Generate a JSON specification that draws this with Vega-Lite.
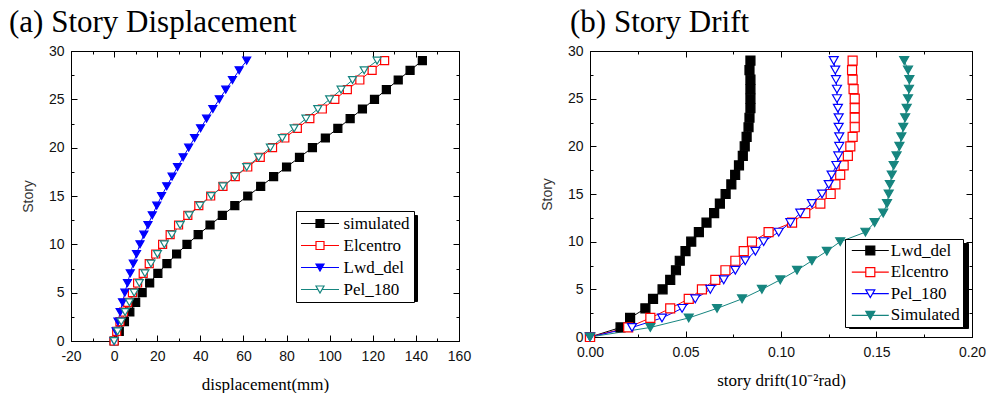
{
  "$schema": "https://vega.github.io/schema/vega-lite/v6.json",
  "padding": {"left": 8, "top": 6, "right": 0, "bottom": 0},
  "background": "white",
  "datasets": {
    "disp": [
      {"series":"simulated","story":0,"disp":0},{"series":"simulated","story":1,"disp":2.4},{"series":"simulated","story":2,"disp":4.8},{"series":"simulated","story":3,"disp":7.3},{"series":"simulated","story":4,"disp":10},{"series":"simulated","story":5,"disp":13},{"series":"simulated","story":6,"disp":16.5},{"series":"simulated","story":7,"disp":20.3},{"series":"simulated","story":8,"disp":24.5},{"series":"simulated","story":9,"disp":29},{"series":"simulated","story":10,"disp":33.8},{"series":"simulated","story":11,"disp":39},{"series":"simulated","story":12,"disp":44.5},{"series":"simulated","story":13,"disp":50.2},{"series":"simulated","story":14,"disp":56},{"series":"simulated","story":15,"disp":62},{"series":"simulated","story":16,"disp":68},{"series":"simulated","story":17,"disp":74},{"series":"simulated","story":18,"disp":80},{"series":"simulated","story":19,"disp":86},{"series":"simulated","story":20,"disp":92},{"series":"simulated","story":21,"disp":98},{"series":"simulated","story":22,"disp":103.8},{"series":"simulated","story":23,"disp":109.5},{"series":"simulated","story":24,"disp":115.2},{"series":"simulated","story":25,"disp":120.8},{"series":"simulated","story":26,"disp":126.3},{"series":"simulated","story":27,"disp":131.8},{"series":"simulated","story":28,"disp":137.3},{"series":"simulated","story":29,"disp":143},
      {"series":"Elcentro","story":0,"disp":0},{"series":"Elcentro","story":1,"disp":1.2},{"series":"Elcentro","story":2,"disp":2.7},{"series":"Elcentro","story":3,"disp":4.4},{"series":"Elcentro","story":4,"disp":6.3},{"series":"Elcentro","story":5,"disp":8.5},{"series":"Elcentro","story":6,"disp":10.9},{"series":"Elcentro","story":7,"disp":13.5},{"series":"Elcentro","story":8,"disp":16.3},{"series":"Elcentro","story":9,"disp":19.3},{"series":"Elcentro","story":10,"disp":22.5},{"series":"Elcentro","story":11,"disp":26},{"series":"Elcentro","story":12,"disp":29.9},{"series":"Elcentro","story":13,"disp":34.2},{"series":"Elcentro","story":14,"disp":39.3},{"series":"Elcentro","story":15,"disp":44.8},{"series":"Elcentro","story":16,"disp":50.5},{"series":"Elcentro","story":17,"disp":56.2},{"series":"Elcentro","story":18,"disp":62},{"series":"Elcentro","story":19,"disp":67.8},{"series":"Elcentro","story":20,"disp":73.5},{"series":"Elcentro","story":21,"disp":79.2},{"series":"Elcentro","story":22,"disp":85},{"series":"Elcentro","story":23,"disp":90.8},{"series":"Elcentro","story":24,"disp":96.6},{"series":"Elcentro","story":25,"disp":102.4},{"series":"Elcentro","story":26,"disp":108.2},{"series":"Elcentro","story":27,"disp":114},{"series":"Elcentro","story":28,"disp":119.7},{"series":"Elcentro","story":29,"disp":125.5},
      {"series":"Lwd_del","story":0,"disp":0},{"series":"Lwd_del","story":1,"disp":0.9},{"series":"Lwd_del","story":2,"disp":1.8},{"series":"Lwd_del","story":3,"disp":2.8},{"series":"Lwd_del","story":4,"disp":3.9},{"series":"Lwd_del","story":5,"disp":5},{"series":"Lwd_del","story":6,"disp":6.2},{"series":"Lwd_del","story":7,"disp":7.5},{"series":"Lwd_del","story":8,"disp":8.9},{"series":"Lwd_del","story":9,"disp":10.4},{"series":"Lwd_del","story":10,"disp":12},{"series":"Lwd_del","story":11,"disp":13.8},{"series":"Lwd_del","story":12,"disp":15.7},{"series":"Lwd_del","story":13,"disp":17.7},{"series":"Lwd_del","story":14,"disp":19.8},{"series":"Lwd_del","story":15,"disp":22},{"series":"Lwd_del","story":16,"disp":24.4},{"series":"Lwd_del","story":17,"disp":26.9},{"series":"Lwd_del","story":18,"disp":29.4},{"series":"Lwd_del","story":19,"disp":32},{"series":"Lwd_del","story":20,"disp":34.6},{"series":"Lwd_del","story":21,"disp":37.3},{"series":"Lwd_del","story":22,"disp":40.1},{"series":"Lwd_del","story":23,"disp":42.9},{"series":"Lwd_del","story":24,"disp":45.8},{"series":"Lwd_del","story":25,"disp":48.8},{"series":"Lwd_del","story":26,"disp":51.8},{"series":"Lwd_del","story":27,"disp":54.9},{"series":"Lwd_del","story":28,"disp":58},{"series":"Lwd_del","story":29,"disp":61.5},
      {"series":"Pel_180","story":0,"disp":0},{"series":"Pel_180","story":1,"disp":1.6},{"series":"Pel_180","story":2,"disp":3.3},{"series":"Pel_180","story":3,"disp":5.1},{"series":"Pel_180","story":4,"disp":7.1},{"series":"Pel_180","story":5,"disp":9.3},{"series":"Pel_180","story":6,"disp":11.7},{"series":"Pel_180","story":7,"disp":14.3},{"series":"Pel_180","story":8,"disp":17.1},{"series":"Pel_180","story":9,"disp":20.1},{"series":"Pel_180","story":10,"disp":23.3},{"series":"Pel_180","story":11,"disp":26.8},{"series":"Pel_180","story":12,"disp":30.6},{"series":"Pel_180","story":13,"disp":34.8},{"series":"Pel_180","story":14,"disp":39.8},{"series":"Pel_180","story":15,"disp":45},{"series":"Pel_180","story":16,"disp":50.5},{"series":"Pel_180","story":17,"disp":56},{"series":"Pel_180","story":18,"disp":61.5},{"series":"Pel_180","story":19,"disp":67},{"series":"Pel_180","story":20,"disp":72.5},{"series":"Pel_180","story":21,"disp":78},{"series":"Pel_180","story":22,"disp":83.5},{"series":"Pel_180","story":23,"disp":89},{"series":"Pel_180","story":24,"disp":94.5},{"series":"Pel_180","story":25,"disp":100},{"series":"Pel_180","story":26,"disp":105.3},{"series":"Pel_180","story":27,"disp":110.6},{"series":"Pel_180","story":28,"disp":116},{"series":"Pel_180","story":29,"disp":122}
    ],
    "drift": [
      {"series":"Lwd_del","story":0,"drift":0},{"series":"Lwd_del","story":1,"drift":0.016},{"series":"Lwd_del","story":2,"drift":0.021},{"series":"Lwd_del","story":3,"drift":0.029},{"series":"Lwd_del","story":4,"drift":0.033},{"series":"Lwd_del","story":5,"drift":0.038},{"series":"Lwd_del","story":6,"drift":0.042},{"series":"Lwd_del","story":7,"drift":0.045},{"series":"Lwd_del","story":8,"drift":0.047},{"series":"Lwd_del","story":9,"drift":0.05},{"series":"Lwd_del","story":10,"drift":0.053},{"series":"Lwd_del","story":11,"drift":0.057},{"series":"Lwd_del","story":12,"drift":0.061},{"series":"Lwd_del","story":13,"drift":0.065},{"series":"Lwd_del","story":14,"drift":0.068},{"series":"Lwd_del","story":15,"drift":0.071},{"series":"Lwd_del","story":16,"drift":0.074},{"series":"Lwd_del","story":17,"drift":0.076},{"series":"Lwd_del","story":18,"drift":0.078},{"series":"Lwd_del","story":19,"drift":0.08},{"series":"Lwd_del","story":20,"drift":0.081},{"series":"Lwd_del","story":21,"drift":0.082},{"series":"Lwd_del","story":22,"drift":0.083},{"series":"Lwd_del","story":23,"drift":0.0835},{"series":"Lwd_del","story":24,"drift":0.084},{"series":"Lwd_del","story":25,"drift":0.084},{"series":"Lwd_del","story":26,"drift":0.084},{"series":"Lwd_del","story":27,"drift":0.084},{"series":"Lwd_del","story":28,"drift":0.0835},{"series":"Lwd_del","story":29,"drift":0.084},
      {"series":"Elcentro","story":0,"drift":0},{"series":"Elcentro","story":1,"drift":0.02},{"series":"Elcentro","story":2,"drift":0.0316},{"series":"Elcentro","story":3,"drift":0.042},{"series":"Elcentro","story":4,"drift":0.0517},{"series":"Elcentro","story":5,"drift":0.0586},{"series":"Elcentro","story":6,"drift":0.0656},{"series":"Elcentro","story":7,"drift":0.0709},{"series":"Elcentro","story":8,"drift":0.0761},{"series":"Elcentro","story":9,"drift":0.0805},{"series":"Elcentro","story":10,"drift":0.0848},{"series":"Elcentro","story":11,"drift":0.0935},{"series":"Elcentro","story":12,"drift":0.1058},{"series":"Elcentro","story":13,"drift":0.1127},{"series":"Elcentro","story":14,"drift":0.1206},{"series":"Elcentro","story":15,"drift":0.126},{"series":"Elcentro","story":16,"drift":0.1285},{"series":"Elcentro","story":17,"drift":0.131},{"series":"Elcentro","story":18,"drift":0.1328},{"series":"Elcentro","story":19,"drift":0.135},{"series":"Elcentro","story":20,"drift":0.1363},{"series":"Elcentro","story":21,"drift":0.1375},{"series":"Elcentro","story":22,"drift":0.1386},{"series":"Elcentro","story":23,"drift":0.1386},{"series":"Elcentro","story":24,"drift":0.1386},{"series":"Elcentro","story":25,"drift":0.1386},{"series":"Elcentro","story":26,"drift":0.138},{"series":"Elcentro","story":27,"drift":0.1375},{"series":"Elcentro","story":28,"drift":0.1372},{"series":"Elcentro","story":29,"drift":0.1375},
      {"series":"Pel_180","story":0,"drift":0},{"series":"Pel_180","story":1,"drift":0.022},{"series":"Pel_180","story":2,"drift":0.0377},{"series":"Pel_180","story":3,"drift":0.0482},{"series":"Pel_180","story":4,"drift":0.0551},{"series":"Pel_180","story":5,"drift":0.063},{"series":"Pel_180","story":6,"drift":0.07},{"series":"Pel_180","story":7,"drift":0.0761},{"series":"Pel_180","story":8,"drift":0.0813},{"series":"Pel_180","story":9,"drift":0.0866},{"series":"Pel_180","story":10,"drift":0.0909},{"series":"Pel_180","story":11,"drift":0.0988},{"series":"Pel_180","story":12,"drift":0.1049},{"series":"Pel_180","story":13,"drift":0.1101},{"series":"Pel_180","story":14,"drift":0.1162},{"series":"Pel_180","story":15,"drift":0.1215},{"series":"Pel_180","story":16,"drift":0.125},{"series":"Pel_180","story":17,"drift":0.1265},{"series":"Pel_180","story":18,"drift":0.129},{"series":"Pel_180","story":19,"drift":0.13},{"series":"Pel_180","story":20,"drift":0.1305},{"series":"Pel_180","story":21,"drift":0.1305},{"series":"Pel_180","story":22,"drift":0.1302},{"series":"Pel_180","story":23,"drift":0.1302},{"series":"Pel_180","story":24,"drift":0.1298},{"series":"Pel_180","story":25,"drift":0.1293},{"series":"Pel_180","story":26,"drift":0.1293},{"series":"Pel_180","story":27,"drift":0.1288},{"series":"Pel_180","story":28,"drift":0.1284},{"series":"Pel_180","story":29,"drift":0.1276},
      {"series":"Simulated","story":0,"drift":0},{"series":"Simulated","story":1,"drift":0.0316},{"series":"Simulated","story":2,"drift":0.0517},{"series":"Simulated","story":3,"drift":0.0665},{"series":"Simulated","story":4,"drift":0.0796},{"series":"Simulated","story":5,"drift":0.09},{"series":"Simulated","story":6,"drift":0.0996},{"series":"Simulated","story":7,"drift":0.1084},{"series":"Simulated","story":8,"drift":0.1162},{"series":"Simulated","story":9,"drift":0.124},{"series":"Simulated","story":10,"drift":0.131},{"series":"Simulated","story":11,"drift":0.1442},{"series":"Simulated","story":12,"drift":0.149},{"series":"Simulated","story":13,"drift":0.1535},{"series":"Simulated","story":14,"drift":0.1555},{"series":"Simulated","story":15,"drift":0.1564},{"series":"Simulated","story":16,"drift":0.157},{"series":"Simulated","story":17,"drift":0.158},{"series":"Simulated","story":18,"drift":0.159},{"series":"Simulated","story":19,"drift":0.1605},{"series":"Simulated","story":20,"drift":0.162},{"series":"Simulated","story":21,"drift":0.163},{"series":"Simulated","story":22,"drift":0.164},{"series":"Simulated","story":23,"drift":0.165},{"series":"Simulated","story":24,"drift":0.1658},{"series":"Simulated","story":25,"drift":0.1665},{"series":"Simulated","story":26,"drift":0.167},{"series":"Simulated","story":27,"drift":0.1672},{"series":"Simulated","story":28,"drift":0.1665},{"series":"Simulated","story":29,"drift":0.1645}
    ]
  },
  "hconcat": [
    {
      "width": 388,
      "height": 290,
      "title": {"text": "(a) Story Displacement", "anchor": "start", "frame": "group", "dx": -62, "offset": -19, "baseline": "alphabetic", "font": "Liberation Serif", "fontSize": 31, "fontWeight": "normal", "color": "#000"},
      "data": {"name": "disp"},
      "layer": [
        {
          "mark": {"type": "line", "strokeWidth": 1},
          "encoding": {
            "x": {"field": "disp", "type": "quantitative", "scale": {"domain": [-20, 160], "nice": false, "zero": false},
              "axis": {"orient": "bottom", "values": [-20,-10,0,10,20,30,40,50,60,70,80,90,100,110,120,130,140,150,160],
                "labelExpr": "datum.value % 20 === 0 ? '' + datum.value : ''", "labelPadding": 14,
                "tickDash": {"condition": {"test": "datum.value % 20 !== 0", "value": [3, 20]}, "value": []},
                "title": "displacement(mm)", "titleFont": "Liberation Serif", "titleFontSize": 17, "titleFontWeight": "normal", "titlePadding": 13}},
            "y": {"field": "story", "type": "quantitative", "scale": {"domain": [0, 30], "nice": false},
              "axis": {"orient": "left", "values": [0,2.5,5,7.5,10,12.5,15,17.5,20,22.5,25,27.5,30],
                "labelExpr": "datum.value % 5 === 0 ? '' + datum.value : ''", "labelPadding": 13,
                "tickDash": {"condition": {"test": "datum.value % 5 !== 0", "value": [3, 20]}, "value": []},
                "title": "Story", "titleFont": "Liberation Sans", "titleFontSize": 14, "titleFontWeight": "normal", "titleColor": "#333", "titlePadding": 13}},
            "color": {"field": "series", "type": "nominal", "scale": {"domain": ["simulated", "Elcentro", "Lwd_del", "Pel_180"], "range": ["#000000", "#ff0000", "#0000ff", "#16857f"]}, "legend": null},
            "order": {"field": "story", "type": "quantitative"}
          }
        },
        {
          "mark": {"type": "point"},
          "encoding": {
            "x": {"field": "disp", "type": "quantitative", "axis": null},
            "y": {"field": "story", "type": "quantitative", "axis": null},
            "opacity": {"field": "series", "type": "ordinal", "sort": ["simulated", "Elcentro", "Lwd_del", "Pel_180"], "scale": {"range": [0, 0]},
              "legend": {"orient": "none", "legendX": 229, "legendY": 164, "title": null, "symbolType": "stroke", "symbolSize": 11664, "symbolStrokeWidth": 1, "symbolOffset": 0,
                "labelExpr": "''", "labelFontSize": 17, "labelOffset": 0, "padding": 4, "rowPadding": 12.3, "clipHeight": 17, "strokeColor": "#000", "fillColor": "#000"}}
          }
        },
        {
          "mark": {"type": "point", "opacity": 1, "strokeWidth": 1.2, "size": 64},
          "encoding": {
            "x": {"field": "disp", "type": "quantitative",
              "axis": {"orient": "top", "values": [-20,-10,0,10,20,30,40,50,60,70,80,90,100,110,120,130,140,150,160], "labels": false, "title": null,
                "tickDash": {"condition": {"test": "datum.value % 20 !== 0", "value": [3, 20]}, "value": []}}},
            "y": {"field": "story", "type": "quantitative",
              "axis": {"orient": "right", "values": [0,2.5,5,7.5,10,12.5,15,17.5,20,22.5,25,27.5,30], "labels": false, "title": null,
                "tickDash": {"condition": {"test": "datum.value % 5 !== 0", "value": [3, 20]}, "value": []}}},
            "shape": {"field": "series", "type": "nominal", "scale": {"domain": ["simulated", "Elcentro", "Lwd_del", "Pel_180"], "range": ["square", "square", "triangle-down", "triangle-down"]}, "legend": null},
            "fill": {"field": "series", "type": "nominal", "scale": {"domain": ["simulated", "Elcentro", "Lwd_del", "Pel_180"], "range": ["#000000", "#ffffff", "#0000ff", "#ffffff"]}, "legend": null},
            "stroke": {"field": "series", "type": "nominal", "scale": {"domain": ["simulated", "Elcentro", "Lwd_del", "Pel_180"], "range": ["#000000", "#ff0000", "#0000ff", "#16857f"]}, "legend": null}
          }
        },
        {
          "transform": [{"filter": "false"}],
          "mark": {"type": "point", "strokeWidth": 1.2, "size": 64},
          "encoding": {
            "x": {"field": "disp", "type": "quantitative", "axis": null},
            "y": {"field": "story", "type": "quantitative", "axis": null},
            "shape": {"field": "series", "type": "nominal", "scale": {"domain": ["simulated", "Elcentro", "Lwd_del", "Pel_180"], "range": ["M-4.75,0H-1M1,0H4.75M-1,-1H1V1H-1Z", "M-4.75,0H-1M1,0H4.75M-1,-1H1V1H-1Z", "M-4.75,0H-0.5M0.5,0H4.75M-1,-0.87H1L0,0.87Z", "M-4.75,0H-0.5M0.5,0H4.75M-1,-0.87H1L0,0.87Z"]},
              "legend": {"orient": "none", "legendX": 225, "legendY": 160, "title": null, "symbolSize": 64, "symbolStrokeWidth": 1.2, "symbolOpacity": 1, "symbolOffset": 11.5, "labelOffset": 15, "labelFont": "Liberation Serif", "labelFontSize": 17, "labelColor": "#000", "padding": 4, "rowPadding": 4, "clipHeight": 17, "strokeColor": "#000", "fillColor": "#fff"}},
            "fill": {"field": "series", "type": "nominal", "scale": {"domain": ["simulated", "Elcentro", "Lwd_del", "Pel_180"], "range": ["#000000", "#ffffff", "#0000ff", "#ffffff"]},
              "legend": {"orient": "none", "legendX": 225, "legendY": 160, "title": null, "symbolSize": 64, "symbolStrokeWidth": 1.2, "symbolOpacity": 1, "symbolOffset": 11.5, "labelOffset": 15, "labelFont": "Liberation Serif", "labelFontSize": 17, "labelColor": "#000", "padding": 4, "rowPadding": 4, "clipHeight": 17, "strokeColor": "#000", "fillColor": "#fff"}},
            "stroke": {"field": "series", "type": "nominal", "scale": {"domain": ["simulated", "Elcentro", "Lwd_del", "Pel_180"], "range": ["#000000", "#ff0000", "#0000ff", "#16857f"]},
              "legend": {"orient": "none", "legendX": 225, "legendY": 160, "title": null, "symbolSize": 64, "symbolStrokeWidth": 1.2, "symbolOpacity": 1, "symbolOffset": 11.5, "labelOffset": 15, "labelFont": "Liberation Serif", "labelFontSize": 17, "labelColor": "#000", "padding": 4, "rowPadding": 4, "clipHeight": 17, "strokeColor": "#000", "fillColor": "#fff"}}
          }
        }
      ],
      "resolve": {"axis": {"x": "independent", "y": "independent"}, "scale": {"shape": "independent", "fill": "independent", "stroke": "independent"}}
    },
    {
      "width": 382,
      "height": 286,
      "title": {"text": "(b) Story Drift", "anchor": "start", "frame": "group", "dx": -20, "offset": -19, "baseline": "alphabetic", "font": "Liberation Serif", "fontSize": 31, "fontWeight": "normal", "color": "#000"},
      "data": {"name": "drift"},
      "layer": [
        {
          "mark": {"type": "line", "strokeWidth": 1},
          "encoding": {
            "x": {"field": "drift", "type": "quantitative", "scale": {"domain": [0, 0.2], "nice": false},
              "axis": {"orient": "bottom", "values": [0,0.025,0.05,0.075,0.1,0.125,0.15,0.175,0.2],
                "labelExpr": "round(datum.value*1000) % 50 === 0 ? format(datum.value, '.2f') : ''", "labelPadding": 14,
                "tickDash": {"condition": {"test": "round(datum.value*1000) % 50 !== 0", "value": [3, 20]}, "value": []},
                "title": "story drift(10⁻²rad)", "titleFont": "Liberation Serif", "titleFontSize": 17, "titleFontWeight": "normal", "titlePadding": 13}},
            "y": {"field": "story", "type": "quantitative", "scale": {"domain": [0, 30], "nice": false},
              "axis": {"orient": "left", "values": [0,2.5,5,7.5,10,12.5,15,17.5,20,22.5,25,27.5,30],
                "labelExpr": "datum.value % 5 === 0 ? '' + datum.value : ''", "labelPadding": 13,
                "tickDash": {"condition": {"test": "datum.value % 5 !== 0", "value": [3, 20]}, "value": []},
                "title": "Story", "titleFont": "Liberation Sans", "titleFontSize": 14, "titleFontWeight": "normal", "titleColor": "#333", "titlePadding": 13}},
            "color": {"field": "series", "type": "nominal", "scale": {"domain": ["Lwd_del", "Elcentro", "Pel_180", "Simulated"], "range": ["#000000", "#ff0000", "#0000ff", "#16857f"]}, "legend": null},
            "order": {"field": "story", "type": "quantitative"}
          }
        },
        {
          "mark": {"type": "point"},
          "encoding": {
            "x": {"field": "drift", "type": "quantitative", "axis": null},
            "y": {"field": "story", "type": "quantitative", "axis": null},
            "opacity": {"field": "series", "type": "ordinal", "sort": ["Lwd_del", "Elcentro", "Pel_180", "Simulated"], "scale": {"range": [0, 0]},
              "legend": {"orient": "none", "legendX": 259, "legendY": 192, "title": null, "symbolType": "stroke", "symbolSize": 12544, "symbolStrokeWidth": 1, "symbolOffset": 0,
                "labelExpr": "''", "labelFontSize": 17, "labelOffset": 0, "padding": 3, "rowPadding": 12.8, "clipHeight": 17, "strokeColor": "#000", "fillColor": "#000"}}
          }
        },
        {
          "mark": {"type": "point", "opacity": 1, "strokeWidth": 1.2, "size": 81},
          "encoding": {
            "x": {"field": "drift", "type": "quantitative",
              "axis": {"orient": "top", "values": [0,0.025,0.05,0.075,0.1,0.125,0.15,0.175,0.2], "labels": false, "title": null,
                "tickDash": {"condition": {"test": "round(datum.value*1000) % 50 !== 0", "value": [3, 20]}, "value": []}}},
            "y": {"field": "story", "type": "quantitative",
              "axis": {"orient": "right", "values": [0,2.5,5,7.5,10,12.5,15,17.5,20,22.5,25,27.5,30], "labels": false, "title": null,
                "tickDash": {"condition": {"test": "datum.value % 5 !== 0", "value": [3, 20]}, "value": []}}},
            "shape": {"field": "series", "type": "nominal", "scale": {"domain": ["Lwd_del", "Elcentro", "Pel_180", "Simulated"], "range": ["square", "square", "triangle-down", "triangle-down"]}, "legend": null},
            "fill": {"field": "series", "type": "nominal", "scale": {"domain": ["Lwd_del", "Elcentro", "Pel_180", "Simulated"], "range": ["#000000", "#ffffff", "#ffffff", "#16857f"]}, "legend": null},
            "stroke": {"field": "series", "type": "nominal", "scale": {"domain": ["Lwd_del", "Elcentro", "Pel_180", "Simulated"], "range": ["#000000", "#ff0000", "#0000ff", "#16857f"]}, "legend": null}
          }
        },
        {
          "transform": [{"filter": "false"}],
          "mark": {"type": "point", "strokeWidth": 1.2, "size": 81},
          "encoding": {
            "x": {"field": "drift", "type": "quantitative", "axis": null},
            "y": {"field": "story", "type": "quantitative", "axis": null},
            "shape": {"field": "series", "type": "nominal", "scale": {"domain": ["Lwd_del", "Elcentro", "Pel_180", "Simulated"], "range": ["M-4.11,0H-1M1,0H4.11M-1,-1H1V1H-1Z", "M-4.11,0H-1M1,0H4.11M-1,-1H1V1H-1Z", "M-4.11,0H-0.5M0.5,0H4.11M-1,-0.87H1L0,0.87Z", "M-4.11,0H-0.5M0.5,0H4.11M-1,-0.87H1L0,0.87Z"]},
              "legend": {"orient": "none", "legendX": 255, "legendY": 188, "title": null, "symbolSize": 81, "symbolStrokeWidth": 1.2, "symbolOpacity": 1, "symbolOffset": 13.8, "labelOffset": 12, "labelFont": "Liberation Serif", "labelFontSize": 17, "labelColor": "#000", "padding": 3, "rowPadding": 3.6, "clipHeight": 17, "strokeColor": "#000", "fillColor": "#fff"}},
            "fill": {"field": "series", "type": "nominal", "scale": {"domain": ["Lwd_del", "Elcentro", "Pel_180", "Simulated"], "range": ["#000000", "#ffffff", "#ffffff", "#16857f"]},
              "legend": {"orient": "none", "legendX": 255, "legendY": 188, "title": null, "symbolSize": 81, "symbolStrokeWidth": 1.2, "symbolOpacity": 1, "symbolOffset": 13.8, "labelOffset": 12, "labelFont": "Liberation Serif", "labelFontSize": 17, "labelColor": "#000", "padding": 3, "rowPadding": 3.6, "clipHeight": 17, "strokeColor": "#000", "fillColor": "#fff"}},
            "stroke": {"field": "series", "type": "nominal", "scale": {"domain": ["Lwd_del", "Elcentro", "Pel_180", "Simulated"], "range": ["#000000", "#ff0000", "#0000ff", "#16857f"]},
              "legend": {"orient": "none", "legendX": 255, "legendY": 188, "title": null, "symbolSize": 81, "symbolStrokeWidth": 1.2, "symbolOpacity": 1, "symbolOffset": 13.8, "labelOffset": 12, "labelFont": "Liberation Serif", "labelFontSize": 17, "labelColor": "#000", "padding": 3, "rowPadding": 3.6, "clipHeight": 17, "strokeColor": "#000", "fillColor": "#fff"}}
          }
        }
      ],
      "resolve": {"axis": {"x": "independent", "y": "independent"}, "scale": {"shape": "independent", "fill": "independent", "stroke": "independent"}}
    }
  ],
  "spacing": 67,
  "resolve": {
    "scale": {"color": "independent", "fill": "independent", "stroke": "independent", "shape": "independent", "opacity": "independent"},
    "legend": {"color": "independent", "fill": "independent", "stroke": "independent", "shape": "independent", "opacity": "independent"}
  },
  "config": {
    "view": {"stroke": "#000", "strokeWidth": 1},
    "axis": {
      "grid": false, "domainColor": "#000", "domainWidth": 1, "tickColor": "#000", "tickWidth": 1, "tickSize": -6,
      "labelFont": "Liberation Sans", "labelFontSize": 14, "labelColor": "#111", "labelFlush": false, "labelOverlap": false,
      "titleColor": "#000"
    }
  }
}
